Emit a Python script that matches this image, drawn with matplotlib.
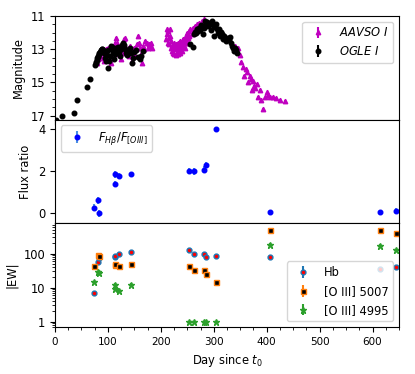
import matplotlib
matplotlib.use("Agg")
import matplotlib.pyplot as plt
from matplotlib.ticker import AutoMinorLocator, MultipleLocator, FixedLocator, FixedFormatter

plt.rcParams['font.size'] = 8.3
plt.rcParams['xtick.labelsize'] = 7.5
plt.rcParams['ytick.labelsize'] = 8.3

# ---- light curves (day since t0, I mag) ----
aavso_day = [80, 82, 85, 88, 90, 93, 95, 97, 100, 103, 105, 107, 109, 111, 113, 115, 117, 119,
             121, 123, 125, 127, 129, 131, 133, 135, 137, 139, 141, 143, 145, 147, 149, 151, 153,
             155, 157, 159, 161, 163, 165, 167, 169, 171, 173, 175, 177, 179, 181, 183,
             210, 211, 212, 213, 214, 215, 216, 217, 218, 219, 220, 221, 222, 223, 224, 225, 226,
             227, 228, 229, 230, 231, 232, 233, 234, 235, 236, 237, 238, 239, 240, 241, 242, 243,
             244, 245, 246, 247, 248, 249, 250, 251, 252, 253, 254, 256, 258, 260, 262, 264, 266,
             268, 270, 272, 275, 278, 282,
             340, 343, 346, 349, 352, 355, 358, 360, 362, 365, 368, 370, 372, 374, 376, 378, 381,
             384, 387, 390, 393, 396, 400, 403, 406, 412, 418, 426, 434]
aavso_mag = [13.8, 13.6, 13.4, 13.2, 13.5, 13.7, 13.3, 13.0, 12.9, 13.6, 13.8, 13.4, 12.8, 13.1,
             12.6, 12.3, 12.6, 13.0, 13.3, 12.9, 13.6, 12.7, 13.2, 12.4, 12.3, 12.9, 13.1, 13.4,
             12.8, 13.0, 13.7, 13.2, 12.9, 13.4, 13.0, 12.7, 12.2, 12.6, 12.9, 13.3, 13.85, 12.8,
             13.0, 12.5, 12.6, 12.9, 12.7, 12.8, 12.6, 12.9,
             12.4, 11.8, 12.1, 12.6, 11.9, 12.3, 12.7, 11.8, 12.2, 12.9, 12.5, 13.1, 12.8, 13.2,
             12.6, 13.3, 12.9, 13.0, 13.35, 12.7, 13.2, 12.9, 13.3, 12.6, 13.0, 12.8, 13.2, 12.5,
             12.9, 12.7, 13.1, 12.6, 12.4, 12.8, 12.5, 12.9, 12.3, 12.6, 12.2, 12.5, 12.0, 12.3,
             12.6, 11.9, 12.2, 11.8, 12.1, 11.7, 11.9, 11.6, 11.8, 11.5, 11.7, 11.4, 11.6, 11.3,
             11.2,
             12.8, 13.1, 12.95, 13.35, 13.75, 14.05, 14.6, 14.2, 14.4, 15.0, 14.6, 14.8, 15.45,
             14.9, 15.2, 15.35, 15.1, 15.85, 15.45, 16.05, 16.6, 15.9, 15.6, 15.75, 15.9, 15.85,
             15.95, 16.05, 16.1]

ogle_day = [1.5, 14, 35, 42, 61, 67, 76, 77, 78, 79, 80, 81, 82, 83, 84, 85, 86, 87, 88, 89, 91,
            93, 95, 96, 98, 100, 101, 102, 104, 105, 107, 108, 110, 112, 113, 115, 117, 119, 121,
            123, 125, 127, 129, 131, 133, 135, 137, 139, 141, 143, 145, 147, 150, 153, 157, 160,
            163, 166,
            255, 261, 262, 264, 266, 268, 270, 272, 274, 276, 278, 280, 282, 284, 286, 288, 290,
            292, 294, 296, 298, 300, 302, 304, 306, 308, 310, 312, 314, 316, 318, 320, 322, 324,
            326, 328, 330, 332, 334, 336, 338, 340, 342, 344]
ogle_mag = [17.25, 17.05, 16.82, 16.06, 15.3, 14.78, 13.97, 13.85, 13.75, 13.65, 13.55, 13.45,
            13.38, 13.3, 13.22, 13.15, 13.08, 13.02, 12.98, 13.0, 13.05, 13.25, 13.5, 13.7, 13.35,
            13.05, 14.13, 13.7, 13.4, 12.8, 13.0, 12.85, 13.2, 13.6, 13.3, 12.9, 13.1, 12.85,
            13.15, 13.4, 13.0, 12.75, 12.6, 12.75, 13.0, 13.2, 13.35, 13.1, 12.95, 13.25, 13.8,
            13.5, 13.15, 13.05, 13.45, 13.6, 13.4, 13.1,
            12.7, 12.84, 12.1, 11.95, 12.05, 11.8, 11.9, 11.7, 11.85, 11.55, 11.65, 12.1, 11.7,
            11.3, 11.5, 11.35, 11.6, 11.45, 11.85, 11.3, 11.55, 12.2, 11.65, 11.5, 11.8, 12.0,
            11.75, 12.2, 11.95, 12.1, 12.4, 12.2, 12.35, 12.5, 12.3, 12.45, 12.25, 12.6, 12.8,
            12.95, 13.1, 12.9, 13.05, 13.2]

# ---- spectroscopic epochs ----
spec_day = [74, 80.5, 84, 112.5, 114, 121, 143, 254, 262, 281, 286, 303.5, 407, 615, 643.5]
flux_ratio = [0.27, 0.61, 0.0, 1.40, 1.84, 1.77, 1.84, 1.99, 1.98, 2.07, 2.27, 3.97, 0.06, 0.06, 0.11]
flux_ratio_err = [0.15, 0.15, 0.15, 0.15, 0.15, 0.12, 0.12, 0.15, 0.15, 0.15, 0.15, 0.12, 0.12, 0.12, 0.15]

ew_hb = [7.0, 55, 75, 80, 82, 95, 109, 123, 100, 100, 80, 85, 80, 35, 40]
ew_hb_err = [0.7, 5, 7, 8, 8, 9, 10, 12, 10, 10, 8, 8, 8, 4, 4]
ew_o5007 = [44, 93, 87, 47, 48, 42, 48, 43, 33.6, 33, 25.6, 14.5, 490, 490, 408]
ew_o5007_err = [4, 9, 8, 4, 4, 4, 4, 4, 3, 3, 2, 1.4, 40, 40, 35]
ew_o4995 = [14.5, 28.7, 26, 9.2, 12.2, 8.2, 12.2, 1, 1, 1, 1, 1, 184, 172, 123]
ew_o4995_err = [1.4, 2.8, 2.5, 0.9, 1.2, 0.8, 1.2, 0.05, 0.05, 0.05, 0.05, 0.05, 15, 15, 12]

fig, (ax1, ax2, ax3) = plt.subplots(3, 1, sharex=True, figsize=(4.15, 3.74), dpi=100)
plt.subplots_adjust(left=0.1325, right=0.9614, top=0.957, bottom=0.1257, hspace=0)

# top: light curve
ax1.errorbar(aavso_day, aavso_mag, yerr=0.05, fmt='^', color='m', ms=3.2, label=r'$AAVSO\ I$')
ax1.errorbar(ogle_day, ogle_mag, yerr=0.02, fmt='o', color='k', ms=3.3, label=r'$OGLE\ I$')
ax1.set_ylim(17.25, 11)
ax1.set_yticks([11, 13, 15, 17])
ax1.yaxis.set_minor_locator(AutoMinorLocator(4))
ax1.set_ylabel("Magnitude")
ax1.legend(loc='upper right')

# middle: flux ratio
ax2.errorbar(spec_day, flux_ratio, yerr=flux_ratio_err, fmt='o', color='b', ecolor='#4a90e2',
             ms=3.3, label=r'$F_{H\beta}/F_{[OIII]}$')
ax2.set_ylim(-0.47, 4.42)
ax2.set_yticks([0, 2, 4])
ax2.set_ylabel("Flux ratio")
ax2.legend(loc='upper left')

# bottom: equivalent widths
ax3.errorbar(spec_day, ew_hb, yerr=ew_hb_err, fmt='o', color='C0', mfc='r', ms=3.5, label='Hb')
ax3.errorbar(spec_day, ew_o5007, yerr=ew_o5007_err, fmt='s', color='C1', mfc='k', ms=3.6,
             label='[O III] 5007')
ax3.errorbar(spec_day, ew_o4995, yerr=ew_o4995_err, fmt='*', color='C2', ms=4.5, label='[O III] 4995')
ax3.set_yscale('log')
ax3.set_ylim(0.7, 770)
ax3.yaxis.set_major_locator(FixedLocator([1, 10, 100]))
ax3.yaxis.set_major_formatter(FixedFormatter(['1', '10', '100']))
ax3.set_ylabel("|EW|")
ax3.legend(loc='lower right')

ax3.set_xlim(0, 650)
ax3.set_xticks([0, 100, 200, 300, 400, 500, 600])
ax3.xaxis.set_minor_locator(MultipleLocator(25))
ax3.set_xlabel("Day since $t_0$")

plt.savefig("out.png")
